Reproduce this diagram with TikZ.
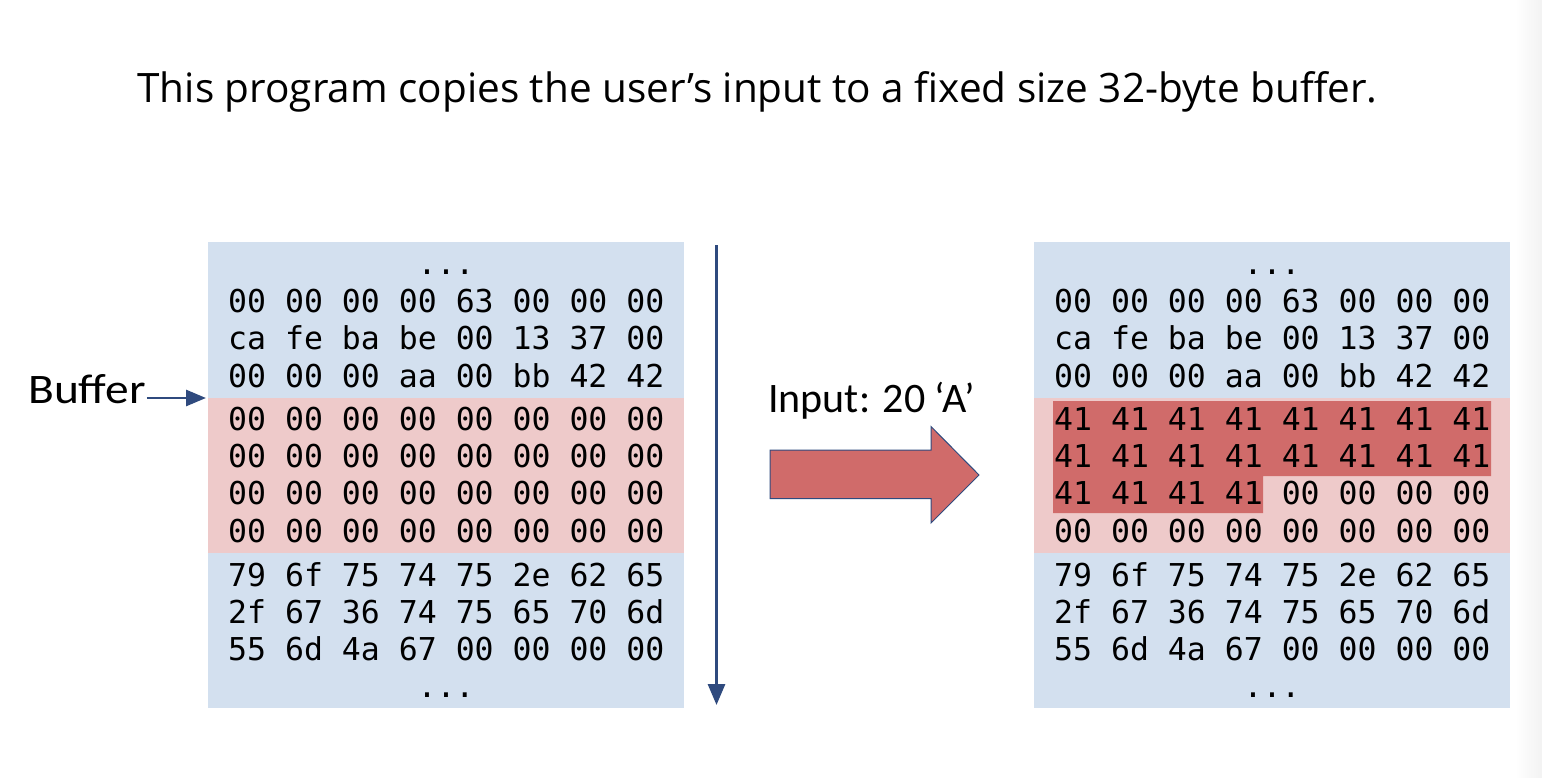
\documentclass[tikz,border=0pt]{standalone}
\usepackage{fontspec}
\setmainfont{Open Sans}
\newfontfamily\calfont{Carlito}
\newfontfamily\hexfont{DejaVu Sans Mono}
\usetikzlibrary{arrows.meta}
\definecolor{boxblue}{HTML}{D3E0EF}
\definecolor{boxpink}{HTML}{EECACA}
\definecolor{hired}{HTML}{D06B6A}
\definecolor{navy}{HTML}{2F4A7E}
\tikzset{
  hex/.style={font=\hexfont\fontsize{31.5}{31.5}\selectfont, inner sep=0pt, anchor=base west},
  dots/.style={font=\hexfont\fontsize{31.5}{31.5}\selectfont, inner sep=0pt, anchor=base},
  label/.style={font=\calfont\fontsize{42}{42}\selectfont, inner sep=0pt, anchor=base west},
  navyarrow/.style={draw=navy, -{Triangle[length=20pt,width=16pt]}},
}
\begin{document}
\begin{tikzpicture}[x=1pt,y=-1pt]
\useasboundingbox (0,0) rectangle (1542,778);
\fill[white] (0,0) rectangle (1542,778);
\shade[left color=white, right color=black!5] (1515,0) rectangle (1542,778);

% title
\node[font=\fontsize{40.5}{40.5}\selectfont, inner sep=0pt, anchor=base] (title) at (757.5,103)
  {This program copies the user’s input to a fixed size 32-byte buffer.};

% boxes
\fill[boxblue] (208,242) rectangle (684,708);
\fill[boxpink] (208,398) rectangle (684,553);
\fill[boxblue] (1034,242) rectangle (1510,708);
\fill[boxpink] (1034,398) rectangle (1510,553);
\fill[hired] (1053,401) -- (1491,401) -- (1491,476) -- (1263,476) -- (1263,513) -- (1053,513) -- cycle;

% left memory
\node[dots] (ld1) at (446,274.5) {...};
\node[hex] (l1) at (228,312) {00 00 00 00 63 00 00 00};
\node[hex] (l2) at (228,349.5) {ca fe ba be 00 13 37 00};
\node[hex] (l3) at (228,387) {00 00 00 aa 00 bb 42 42};
\node[hex] (l4) at (228,430) {00 00 00 00 00 00 00 00};
\node[hex] (l5) at (228,467) {00 00 00 00 00 00 00 00};
\node[hex] (l6) at (228,504.5) {00 00 00 00 00 00 00 00};
\node[hex] (l7) at (228,542) {00 00 00 00 00 00 00 00};
\node[hex] (l8) at (228,586) {79 6f 75 74 75 2e 62 65};
\node[hex] (l9) at (228,623) {2f 67 36 74 75 65 70 6d};
\node[hex] (l10) at (228,660) {55 6d 4a 67 00 00 00 00};
\node[dots] (ld2) at (446,697.5) {...};

% right memory
\node[dots] (rd1) at (1272,274.5) {...};
\node[hex] (r1) at (1054,312) {00 00 00 00 63 00 00 00};
\node[hex] (r2) at (1054,349.5) {ca fe ba be 00 13 37 00};
\node[hex] (r3) at (1054,387) {00 00 00 aa 00 bb 42 42};
\node[hex] (r4) at (1054,430) {41 41 41 41 41 41 41 41};
\node[hex] (r5) at (1054,467) {41 41 41 41 41 41 41 41};
\node[hex] (r6) at (1054,504.5) {41 41 41 41 00 00 00 00};
\node[hex] (r7) at (1054,542) {00 00 00 00 00 00 00 00};
\node[hex] (r8) at (1054,586) {79 6f 75 74 75 2e 62 65};
\node[hex] (r9) at (1054,623) {2f 67 36 74 75 65 70 6d};
\node[hex] (r10) at (1054,660) {55 6d 4a 67 00 00 00 00};
\node[dots] (rd2) at (1272,697.5) {...};

% buffer label and arrow
\node[label] (buf) at (28,403) {\scalebox{1.13}[1]{Buffer}};
\coordinate (bufedge) at (206,398);
\draw[navyarrow, line width=2.8pt] (buf.base east |- bufedge) ++(1,0) -- (bufedge);

% vertical arrow
\coordinate (vtop) at (716.5,245);
\coordinate (vbot) at (716.5,705);
\draw[draw=navy, line width=3pt, -{Triangle[length=21pt,width=17pt]}] (vtop) -- (vbot);

% input label and big arrow
\node[label] (inp) at (768,412) {Input: 20 ‘A’};
\filldraw[fill=hired, draw=navy, line width=1pt]
  (770,450) -- (931,450) -- (931,426.5) -- (979,475) -- (931,523) -- (931,498.5) -- (770,498.5) -- cycle;
\end{tikzpicture}
\end{document}
